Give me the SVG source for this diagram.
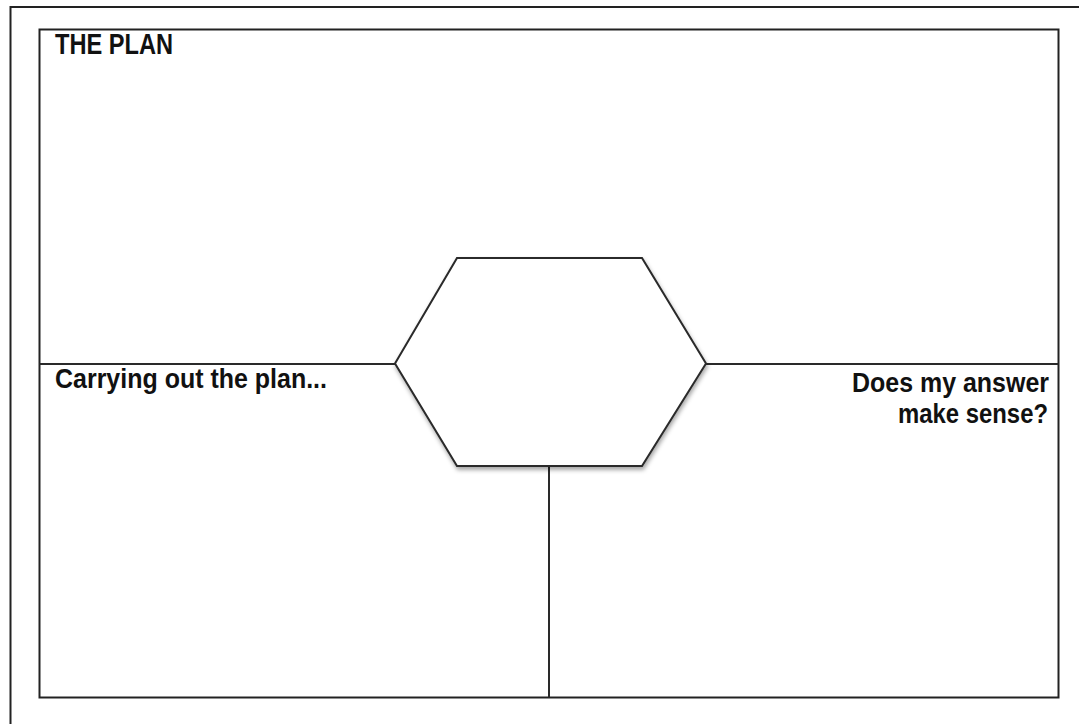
<svg xmlns="http://www.w3.org/2000/svg" width="1079" height="724" viewBox="0 0 1079 724">
  <style>
    .frame { fill: none; stroke: #222; stroke-width: 2; }
    .line { fill: none; stroke: #2a2a2a; stroke-width: 2; }
    .label { font-family: "Liberation Sans", Arial, sans-serif; font-weight: bold; fill: #111; }
  </style>
  <defs>
    <filter id="shadow" x="-10%" y="-10%" width="120%" height="130%">
      <feDropShadow dx="1" dy="3" stdDeviation="2" flood-color="#000" flood-opacity="0.35"/>
    </filter>
  </defs>
  <rect width="1079" height="724" fill="#fff"/>
  <g id="outer-border">
    <path class="frame" d="M10.5 740 V7 H1090"/>
  </g>
  <g id="plan-frame">
    <rect class="frame" x="39.5" y="29.5" width="1019" height="668"/>
  </g>
  <g id="connectors">
    <line class="line" x1="39.5" y1="364" x2="395" y2="364"/>
    <line class="line" x1="706" y1="364" x2="1058.5" y2="364"/>
    <line class="line" x1="549" y1="466" x2="549" y2="697.5"/>
  </g>
  <g id="hexagon">
    <polygon points="395,363.5 457,258 642,258 706,363.5 642,466 457,466" fill="#fff" stroke="#2a2a2a" stroke-width="2" filter="url(#shadow)"/>
  </g>
  <g id="label-plan">
    <text class="label" x="55" y="54" font-size="30" textLength="118" lengthAdjust="spacingAndGlyphs">THE PLAN</text>
  </g>
  <g id="label-carrying">
    <text class="label" x="55" y="388" font-size="28" textLength="272" lengthAdjust="spacingAndGlyphs">Carrying out the plan...</text>
  </g>
  <g id="label-sense">
    <text class="label" x="852" y="392" font-size="28" textLength="197" lengthAdjust="spacingAndGlyphs">Does my answer</text>
    <text class="label" x="898" y="423" font-size="28" textLength="150" lengthAdjust="spacingAndGlyphs">make sense?</text>
  </g>
</svg>
